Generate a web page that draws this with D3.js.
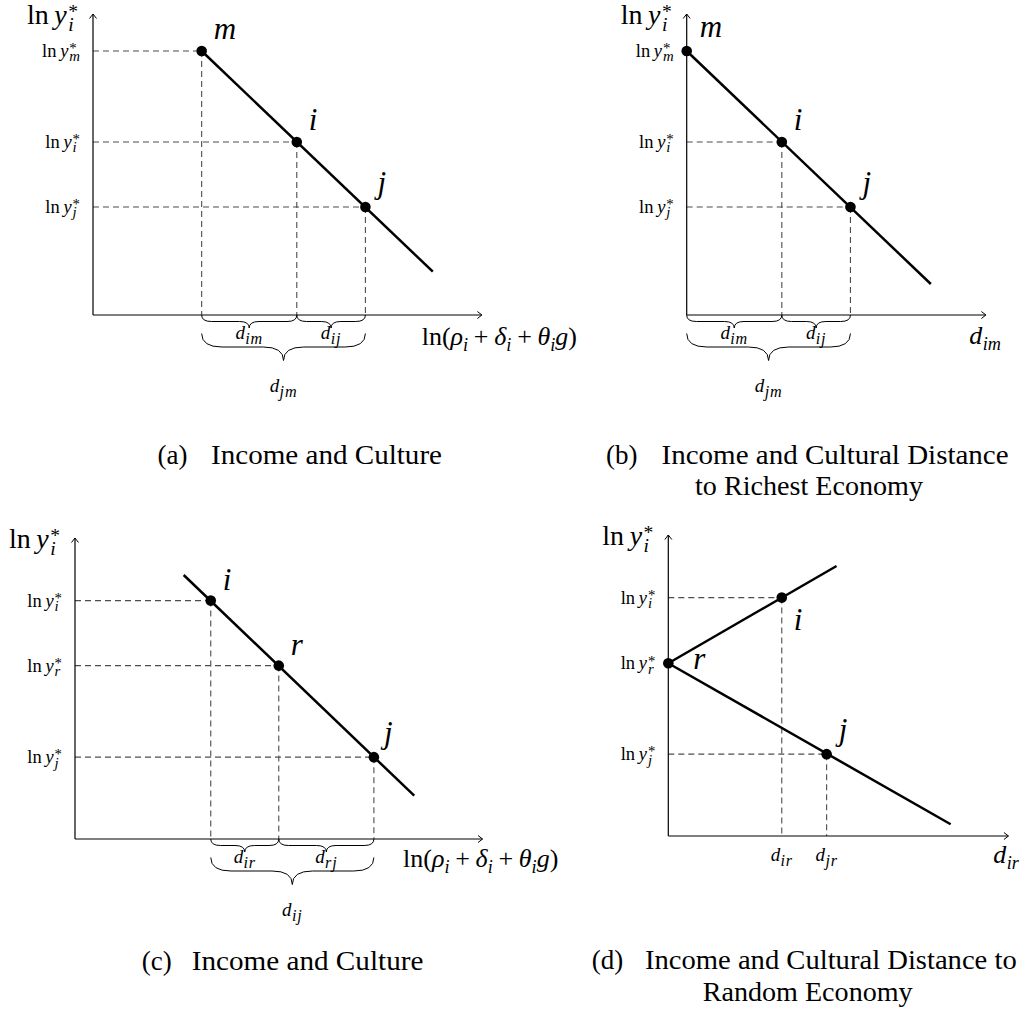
<!DOCTYPE html>
<html>
<head>
<meta charset="utf-8">
<script src="https://cdn.jsdelivr.net/npm/d3@7"></script>
<style>
  body { margin: 0; background: #fff; }
</style>
</head>
<body>
<svg id="chart" width="1029" height="1012"></svg>
<script>
// ---- data, in axis units (each y axis runs 0..10) ----
const aNames = ["m", "i", "j"];
const aX = [3.61, 6.77, 9.05];
const aY = [8.77, 5.75, 3.59];
const aLineX = [3.61, 11.29];
const aLineY = [8.77, 1.44];

const bNames = ["m", "i", "j"];
const bX = [0, 3.16, 5.44];
const bY = [8.77, 5.75, 3.59];
const bLineX = [0, 8.11];
const bLineY = [8.77, 1.03];

const cNames = ["i", "r", "j"];
const cX = [4.51, 6.77, 9.93];
const cY = [7.92, 5.76, 2.72];
const cLineX = [3.61, 11.27];
const cLineY = [8.77, 1.44];

const dNames = ["r", "i", "j"];
const dX = [0, 3.77, 5.26];
const dY = [5.74, 7.92, 2.72];
const dUpperX = [0, 5.59];
const dUpperY = [5.74, 8.97];
const dLowerX = [0, 9.38];
const dLowerY = [5.74, 0.39];

// braces: [from point, to point, subscript]
const aBraces = [[0, 1, "im"], [1, 2, "ij"]];
const aBigBrace = [0, 2, "jm"];
const bBraces = [[0, 1, "im"], [1, 2, "ij"]];
const bBigBrace = [0, 2, "jm"];
const cBraces = [[0, 1, "ir"], [1, 2, "rj"]];
const cBigBrace = [0, 2, "ij"];
// x tick labels of panel d: [point, subscript]
const dXTicks = [[1, "ir"], [2, "jr"]];

const capA = ["(a)", "Income and Culture"];
const capB = ["(b)", "Income and Cultural Distance", "to Richest Economy"];
const capC = ["(c)", "Income and Culture"];
const capD = ["(d)", "Income and Cultural Distance to", "Random Economy"];

// ---- helpers ----
const svg = d3.select("#chart");
const U = 30.1; // px per axis unit
const FONT = "Liberation Serif";

const T = (t, it) => ({ t: t, it: !!it });
const SUB = (t) => ({ t: t, sub: true, it: true });
const SUP = (t) => ({ t: t, sup: true });
const STK = (t) => ({ t: t, sub: true, it: true, stack: true });
const GAP = (em) => ({ gap: em });

const lnY = (k) => [T("ln"), GAP(0.2), T("y", 1), GAP(0.05), SUP("*"), STK(k)];
const dSub = (k) => [T("d", 1), GAP(0.02), SUB(k)];
const lnRho = [T("ln("), T("ρ", 1), SUB("i"), GAP(0.22), T("+"), GAP(0.22),
  T("δ", 1), SUB("i"), GAP(0.22), T("+"), GAP(0.22), T("θ", 1), SUB("i"), T("g", 1), T(")")];

function addText(g) {
  return g.append("text").style("font-family", FONT).attr("fill", "#000");
}

// one <text> per formula, pieces placed as tspans
function mathText(g, x, y, tokens, size, opt) {
  opt = opt || {};
  let r = opt.ratio || 0.7;
  let txt = addText(g).attr("y", y).attr("font-size", size);
  let cx = 0, lastStart = 0;
  let spans = [];
  tokens.forEach((tk) => {
    if (tk.gap !== undefined) { cx += tk.gap * size; return; }
    let small = tk.sub || tk.sup;
    let dy = tk.sub ? size * 0.24 : tk.sup ? -size * 0.2 : 0;
    let x0 = tk.stack ? lastStart : cx;
    let s = txt.append("tspan")
      .attr("x", x0).attr("y", y + dy)
      .attr("font-size", small ? size * r : size)
      .attr("font-style", tk.it ? "italic" : "normal")
      .attr("letter-spacing", small && opt.ls ? opt.ls : null)
      .text(tk.t);
    let w = s.node().getComputedTextLength();
    spans.push([s, x0]);
    lastStart = x0;
    cx = Math.max(cx, x0 + w);
  });
  let shift = opt.anchor === "end" ? -cx : opt.anchor === "middle" ? -cx / 2 : 0;
  spans.forEach((d) => d[0].attr("x", x + shift + d[1]));
  return txt;
}

function bracePath(x0, x1, y0, h) {
  let m = (x0 + x1) / 2, q = h / 2, qx = q * 1.5;
  return "M" + x0 + "," + y0 +
    " Q" + x0 + "," + (y0 + q) + " " + (x0 + qx) + "," + (y0 + q) +
    " L" + (m - qx) + "," + (y0 + q) +
    " Q" + m + "," + (y0 + q) + " " + m + "," + (y0 + h) +
    " Q" + m + "," + (y0 + q) + " " + (m + qx) + "," + (y0 + q) +
    " L" + (x1 - qx) + "," + (y0 + q) +
    " Q" + x1 + "," + (y0 + q) + " " + x1 + "," + y0;
}

svg.append("defs").append("marker")
  .attr("id", "arr").attr("viewBox", "-6 -5 7 10")
  .attr("refX", 0).attr("refY", 0)
  .attr("markerWidth", 7).attr("markerHeight", 10)
  .attr("markerUnits", "userSpaceOnUse").attr("orient", "auto")
  .append("path").attr("d", "M-4.5,-3.5 L0,0 L-4.5,3.5")
  .attr("fill", "none").attr("stroke", "#000").attr("stroke-width", 1);

// ---- panels (layout) ----
let panels = [
  { names: aNames, px: aX, py: aY, lines: [[aLineX, aLineY]],
    braces: aBraces, big: aBigBrace, ox: 93, oy: 315, xLen: 12.92,
    xTitle: lnRho, xTitleX: 421.7, xTitleDy: 30, xTitleAnchor: "start",
    off: [[12, -12], [12, -12], [12, -14]],
    cap: capA, capPos: { tag: 157.5, x: 211, w: 231, y: 464 } },
  { names: bNames, px: bX, py: bY, lines: [[bLineX, bLineY]],
    braces: bBraces, big: bBigBrace, ox: 686.7, oy: 315, xLen: 9.94,
    xTitle: dSub("im"), xTitleX: 985, xTitleDy: 29, xTitleAnchor: "middle",
    off: [[13, -14], [12, -12], [12, -14]],
    cap: capB, capPos: { tag: 606, x: 661.6, w: 347, y: 464, x2: 695, w2: 228, y2: 495 } },
  { names: cNames, px: cX, py: cY, lines: [[cLineX, cLineY]],
    braces: cBraces, big: cBigBrace, ox: 75, oy: 839, xLen: 13.54,
    xTitle: lnRho, xTitleX: 403, xTitleDy: 28, xTitleAnchor: "start",
    off: [[12, -11], [12, -11], [10, -14]],
    cap: capC, capPos: { tag: 141.7, x: 191.7, w: 231.7, y: 970 } },
  { names: dNames, px: dX, py: dY, lines: [[dUpperX, dUpperY], [dLowerX, dLowerY]],
    xTicks: dXTicks, ox: 668.3, oy: 836, xLen: 11.3,
    xTitle: dSub("ir"), xTitleX: 1006, xTitleDy: 27, xTitleAnchor: "middle",
    off: [[25, 6], [12, 32], [12, -14]],
    cap: capD, capPos: { tag: 591.7, x: 645, w: 371.7, y: 969, x2: 702.7, w2: 210, y2: 1001 } }
];

panels.forEach((p) => {
  let g = svg.append("g");
  let x = d3.scaleLinear().domain([0, p.xLen]).range([p.ox, p.ox + p.xLen * U]);
  let y = d3.scaleLinear().domain([0, 10]).range([p.oy, p.oy - 10 * U]);
  let idx = d3.range(p.names.length);
  let guided = idx.filter((k) => p.px[k] > 0);

  // dashed guides
  let dash = g.append("g").attr("stroke", "#4d4d4d").attr("stroke-width", 1.1)
    .attr("stroke-dasharray", "6,4").attr("fill", "none");
  dash.selectAll("line.h").data(guided).enter().append("line").attr("class", "h")
    .attr("x1", x(0)).attr("x2", (k) => x(p.px[k]))
    .attr("y1", (k) => y(p.py[k])).attr("y2", (k) => y(p.py[k]));
  dash.selectAll("line.v").data(guided).enter().append("line").attr("class", "v")
    .attr("x1", (k) => x(p.px[k])).attr("x2", (k) => x(p.px[k]))
    .attr("y1", (k) => y(p.py[k])).attr("y2", y(0));

  // axes
  g.append("line").attr("x1", x(0)).attr("y1", y(0)).attr("x2", x(0)).attr("y2", y(10))
    .attr("stroke", "#000").attr("stroke-width", 1.2).attr("marker-end", "url(#arr)");
  g.append("line").attr("x1", x(0)).attr("y1", y(0)).attr("x2", x(p.xLen)).attr("y2", y(0))
    .attr("stroke", "#000").attr("stroke-width", 1.2).attr("marker-end", "url(#arr)");

  // main lines
  let line = d3.line().x((d) => x(d[0])).y((d) => y(d[1]));
  p.lines.forEach((L) => {
    g.append("path").datum(d3.zip(L[0], L[1])).attr("d", line)
      .attr("fill", "none").attr("stroke", "#000").attr("stroke-width", 2.5);
  });

  // points
  g.selectAll("circle").data(idx).enter().append("circle")
    .attr("cx", (k) => x(p.px[k])).attr("cy", (k) => y(p.py[k])).attr("r", 5.3)
    .attr("fill", "#000");

  // point labels
  idx.forEach((k) => {
    addText(g).attr("x", x(p.px[k]) + p.off[k][0]).attr("y", y(p.py[k]) + p.off[k][1])
      .attr("font-size", 31).attr("font-style", "italic").text(p.names[k]);
  });

  // y tick labels
  idx.forEach((k) => {
    mathText(g, x(0) - 13, y(p.py[k]) + 6, lnY(p.names[k]), 18.5, { anchor: "end", ratio: 0.8 });
  });

  // y axis title
  mathText(g, x(0) - 15, y(10) + 10, lnY("i"), 28, { anchor: "end", ratio: 0.7 });

  // x axis title
  mathText(g, p.xTitleX, y(0) + p.xTitleDy, p.xTitle, 26, { anchor: p.xTitleAnchor, ratio: 0.7 });

  // braces
  if (p.braces) {
    p.braces.forEach((b) => {
      let x0 = x(p.px[b[0]]), x1 = x(p.px[b[1]]);
      g.append("path").attr("d", bracePath(x0, x1, y(0), 13))
        .attr("fill", "none").attr("stroke", "#000").attr("stroke-width", 1);
      mathText(g, (x0 + x1) / 2, y(0) + 24, dSub(b[2]), 19, { anchor: "middle", ratio: 0.85, ls: 0.8 });
    });
    let x0 = x(p.px[p.big[0]]), x1 = x(p.px[p.big[1]]);
    g.append("path").attr("d", bracePath(x0, x1, y(0) + 18.5, 27))
      .attr("fill", "none").attr("stroke", "#000").attr("stroke-width", 1);
    mathText(g, (x0 + x1) / 2, y(0) + 77, dSub(p.big[2]), 19, { anchor: "middle", ratio: 0.85, ls: 0.8 });
  }

  // x tick labels (panel d)
  if (p.xTicks) {
    p.xTicks.forEach((t) => {
      mathText(g, x(p.px[t[0]]), y(0) + 25, dSub(t[1]), 19, { anchor: "middle", ratio: 0.85, ls: 0.8 });
    });
  }

  // caption
  let c = p.capPos;
  addText(g).attr("x", c.tag).attr("y", c.y).attr("font-size", 27).text(p.cap[0]);
  addText(g).attr("x", c.x).attr("y", c.y).attr("font-size", 27)
    .attr("textLength", c.w).attr("lengthAdjust", "spacingAndGlyphs").text(p.cap[1]);
  if (p.cap[2]) {
    addText(g).attr("x", c.x2).attr("y", c.y2).attr("font-size", 27)
      .attr("textLength", c.w2).attr("lengthAdjust", "spacingAndGlyphs").text(p.cap[2]);
  }
});
</script>
</body>
</html>
